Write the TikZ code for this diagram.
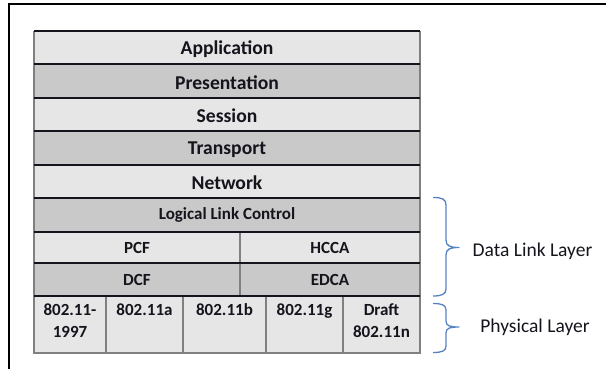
\documentclass[tikz,border=0pt]{standalone}
\usepackage{fontspec}
\setmainfont{Carlito}
\begin{document}
\begin{tikzpicture}[x=1pt,y=-1pt,
  every node/.style={inner sep=0pt,outer sep=0pt},
  lite/.style={fill=cellA},
  dark/.style={fill=cellB},
  big/.style={font=\fontsize{19.6}{22}\selectfont\bfseries,text=ink},
  small/.style={font=\fontsize{17}{21.5}\selectfont\bfseries,text=ink,align=center},
  rowline/.style={draw=ink,line width=1.6pt},
  colline/.style={draw=edge,line width=1.6pt},
  bracket/.style={draw=brace,line width=1.3pt,line join=round},
  side/.style={font=\fontsize{19.5}{22}\selectfont,text=ink}
]
\definecolor{cellA}{RGB}{230,230,230}
\definecolor{cellB}{RGB}{201,201,201}
\definecolor{ink}{RGB}{20,20,28}
\definecolor{edge}{RGB}{128,128,128}
\definecolor{brace}{RGB}{84,130,194}

\useasboundingbox (0,0) rectangle (606,368);

% outer frame (top and left edges only)
\draw[line width=2pt,black] (607,4) -- (9,4) -- (9,369);

% upper protocol layers
\path[lite] (34,31) rectangle (420,64);
\path[dark] (34,64) rectangle (420,98);
\path[lite] (34,98) rectangle (420,131);
\path[dark] (34,131) rectangle (420,165);
\path[lite] (34,165) rectangle (420,198);
\node[big] (app) at (227,49) {Application};
\node[big] (pres) at (227,82.5) {Presentation};
\node[big] (sess) at (227,115.5) {Session};
\node[big] (trans) at (227,149.5) {Transport};
\node[big] (net) at (227,182.5) {Network};

% data link sublayers
\path[dark] (34,198) rectangle (420,232);
\path[lite] (34,232) rectangle (420,263);
\path[dark] (34,263) rectangle (420,296);
\node[small] (llc) at (227,215) {Logical Link Control};
\node[small] (pcf) at (137,247.5) {PCF};
\node[small] (hcca) at (330,247.5) {HCCA};
\node[small] (dcf) at (137,279.5) {DCF};
\node[small] (edca) at (330,279.5) {EDCA};

% physical layer variants
\path[lite] (34,296) rectangle (420,353);
\node[small,anchor=north] (p1) at (70,304) {802.11-\\1997};
\node[small,anchor=north] (p2) at (144.5,304) {802.11a};
\node[small,anchor=north] (p3) at (224.5,304) {802.11b};
\node[small,anchor=north] (p4) at (304.5,304) {802.11g};
\node[small,anchor=north] (p5) at (381.5,304) {Draft\\802.11n};

% vertical separators
\draw[colline] (240,232) -- (240,296);
\foreach \x in {106,183,266,343} \draw[colline] (\x,296) -- (\x,353);
\draw[colline] (34,31) -- (34,353) -- (420,353) -- (420,31);

% horizontal separators
\draw[rowline] (34,31) -- (420,31);
\foreach \y in {64,98,131,165,198,232,263,296} \draw[rowline] (34,\y) -- (420,\y);

% braces
\draw[bracket] (433,197.5) .. controls (442,197.5) and (446,199) .. (446,205)
  -- (446,240) .. controls (446,246) and (450,247.5) .. (459,247.5)
  .. controls (450,247.5) and (446,249) .. (446,255)
  -- (446,289) .. controls (446,294) and (442,296) .. (433,296);
\draw[bracket] (433,303.5) .. controls (442,303.5) and (446,305) .. (446,310)
  -- (446,321) .. controls (446,326) and (450,327) .. (459,327)
  .. controls (450,327) and (446,328) .. (446,333)
  -- (446,346) .. controls (446,351) and (442,352.5) .. (433,352.5);
\node[side] (dll) at (532.5,251) {Data Link Layer};
\node[side] (phy) at (535,327.5) {Physical Layer};
\end{tikzpicture}
\end{document}
